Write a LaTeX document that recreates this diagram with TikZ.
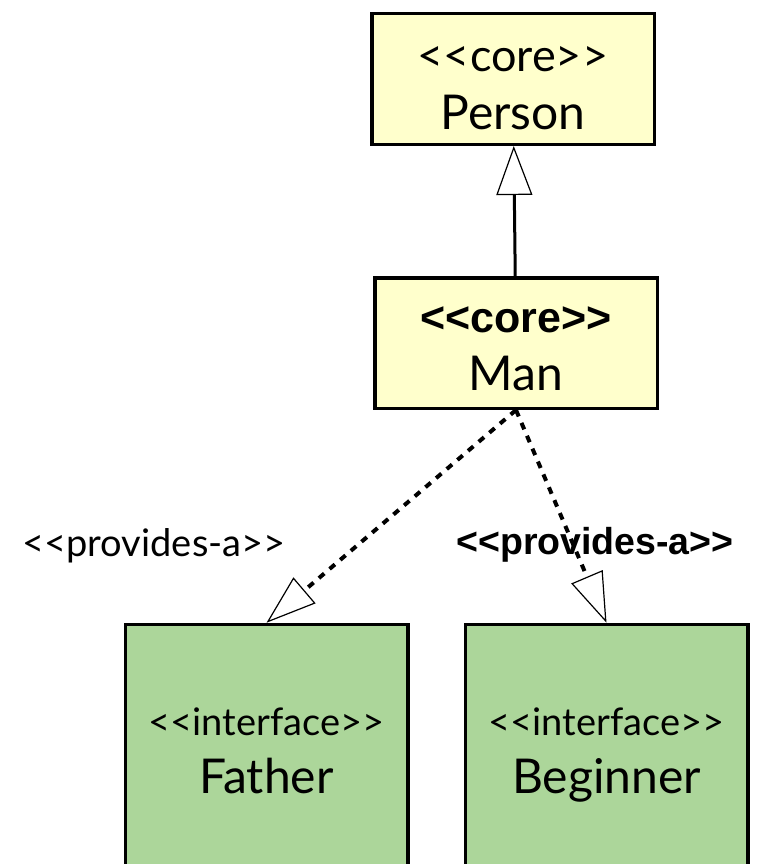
\documentclass[tikz,border=0pt]{standalone}
\usepackage{fontspec}
\setmainfont{Lato}
\newfontfamily\boldsans{Liberation Sans}
\usepackage{tikz}
\usetikzlibrary{arrows.meta,positioning}
\definecolor{umlyellow}{RGB}{255,255,204}
\definecolor{umlgreen}{RGB}{172,214,154}
\newcommand{\stereo}[1]{<{}<#1>{}>}
\newcommand{\stbig}{\fontsize{45}{52}\selectfont}
\newcommand{\stsmall}{\fontsize{38}{44}\selectfont}
\newcommand{\stbold}{\boldsans\bfseries\fontsize{43}{48}\selectfont}
\tikzset{
  umlbox/.style={draw=black, line width=3.5pt, align=center, minimum width=282.5pt,
    inner sep=0pt, text depth=0pt, text height=90pt, font=\fontsize{48}{58}\selectfont},
  corebox/.style={umlbox, fill=umlyellow, minimum height=130.5pt},
  ifacebox/.style={umlbox, fill=umlgreen, minimum height=247pt},
  stlabel/.style={inner sep=0pt, font=\stsmall},
  inherit/.style={-{Triangle[open, length=49pt, width=36pt, line width'=1.2pt]},
    line width=3pt},
  provides/.style={-{Triangle[open, length=50pt, width=34pt, line width'=1.2pt]},
    line width=4pt, dash pattern=on 7pt off 7pt}
}
\begin{document}
\begin{tikzpicture}[x=1pt, y=-1pt]
  \useasboundingbox (0,0) rectangle (759,864);
  \node[corebox, text height=101pt] (pPerson) at (513,79) {{\stbig\stereo{core}}\\Person};
  \node[corebox, text height=94pt] (pMan) at (516,343) {{\stbold\stereo{core}}\\Man};
  \node[ifacebox] (pFather) at (266.5,748) {{\stsmall\stereo{interface}}\\Father};
  \node[ifacebox] (pBeginner) at (606.5,748) {{\stsmall\stereo{interface}}\\Beginner};
  \node[stlabel] (lFather) at (154,546) {\stereo{provides-a}};
  \node[stlabel, font=\boldsans\bfseries\fontsize{37.5}{44}\selectfont] (lBeginner) at (595,545) {\stereo{provides-a}};
  \draw[inherit] (pMan) -- (pPerson);
  \draw[provides] (pMan.south) -- (pFather.north);
  \draw[provides] (pMan.south) -- (pBeginner.north);
\end{tikzpicture}
\end{document}
